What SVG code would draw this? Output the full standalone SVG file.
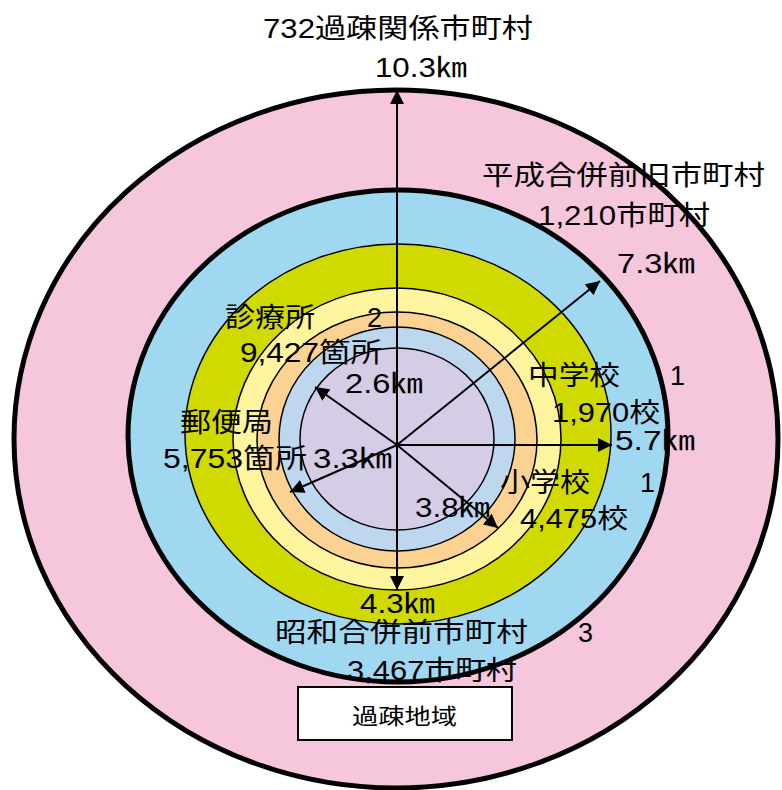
<svg xmlns="http://www.w3.org/2000/svg" width="782" height="790" viewBox="0 0 782 790">
<defs>
<style>
.t{font-family:"Liberation Sans","Noto Sans CJK JP",sans-serif;font-size:27px;fill:#000}
.s{font-family:"Liberation Sans","Noto Sans CJK JP",sans-serif;font-size:22px;fill:#000}
.ring{stroke:#000;stroke-width:1.5}
.thick{stroke:#000;stroke-width:5}
.arr{stroke:#000;stroke-width:2;fill:none;marker-end:url(#ah)}
</style>
<marker id="ah" viewBox="0 0 10 10" refX="10" refY="5" markerWidth="7" markerHeight="7" orient="auto" markerUnits="strokeWidth">
<path d="M0,0 L10,5 L0,10 z" fill="#000"/>
</marker>
</defs>
<rect width="782" height="790" fill="#fff"/>
<g id="ring-pink"><ellipse class="thick" cx="396" cy="439" rx="382" ry="349" fill="#F5C6DC"/></g>
<g id="ring-blue"><ellipse class="thick" cx="398" cy="436" rx="270" ry="246" fill="#A0D8F2"/></g>
<g id="ring-green"><ellipse class="ring" cx="398" cy="434" rx="213" ry="190" fill="#D0DA00"/></g>
<g id="ring-yellow"><ellipse class="ring" cx="397" cy="439" rx="164" ry="151" fill="#FFF59F"/></g>
<g id="ring-orange"><ellipse class="ring" cx="397" cy="440" rx="140" ry="128" fill="#FCD292"/></g>
<g id="ring-lightblue"><ellipse class="ring" cx="397" cy="439" rx="118" ry="112" fill="#BCD7EE"/></g>
<g id="ring-purple"><ellipse class="ring" cx="397" cy="439" rx="97" ry="91" fill="#D5CDE6"/></g>
<g id="connectors">
<line class="arr" x1="397" y1="445" x2="397" y2="90"/>
<line class="arr" x1="397" y1="445" x2="397" y2="590"/>
<line class="arr" x1="397" y1="445" x2="612" y2="445"/>
<line class="arr" x1="397" y1="445" x2="600" y2="281"/>
<line class="arr" x1="397" y1="445" x2="315" y2="387"/>
<line class="arr" x1="397" y1="445" x2="290" y2="492"/>
<line class="arr" x1="397" y1="445" x2="498" y2="528"/>
</g>
<g id="labels">
<text class="t" x="263" y="38" textLength="270" lengthAdjust="spacingAndGlyphs">732過疎関係市町村</text>
<text class="t" x="375" y="77" textLength="92" lengthAdjust="spacingAndGlyphs">10.3㎞</text>
<text class="t" x="482" y="185" textLength="283" lengthAdjust="spacingAndGlyphs">平成合併前旧市町村</text>
<text class="t" x="538" y="225" textLength="172" lengthAdjust="spacingAndGlyphs">1,210市町村</text>
<text class="t" x="617" y="273" textLength="78" lengthAdjust="spacingAndGlyphs">7.3㎞</text>
<text class="t" x="225" y="327" textLength="90" lengthAdjust="spacingAndGlyphs">診療所</text>
<text class="t" x="367" y="327">2</text>
<text class="t" x="240" y="362" textLength="142" lengthAdjust="spacingAndGlyphs">9,427箇所</text>
<text class="t" x="345" y="393" textLength="78" lengthAdjust="spacingAndGlyphs">2.6㎞</text>
<text class="t" x="180" y="432" textLength="93" lengthAdjust="spacingAndGlyphs">郵便局</text>
<text class="t" x="163" y="468" textLength="144" lengthAdjust="spacingAndGlyphs">5,753箇所</text>
<text class="t" x="313" y="468" textLength="79" lengthAdjust="spacingAndGlyphs">3.3㎞</text>
<text class="t" x="528" y="385" textLength="92" lengthAdjust="spacingAndGlyphs">中学校</text>
<text class="t" x="670" y="385">1</text>
<text class="t" x="552" y="422" textLength="108" lengthAdjust="spacingAndGlyphs">1,970校</text>
<text class="t" x="615" y="450" textLength="80" lengthAdjust="spacingAndGlyphs">5.7㎞</text>
<text class="t" x="500" y="492" textLength="90" lengthAdjust="spacingAndGlyphs">小学校</text>
<text class="t" x="640" y="492">1</text>
<text class="t" x="520" y="528" textLength="108" lengthAdjust="spacingAndGlyphs">4,475校</text>
<text class="t" x="415" y="517" textLength="75" lengthAdjust="spacingAndGlyphs">3.8㎞</text>
<text class="t" x="360" y="613" textLength="75" lengthAdjust="spacingAndGlyphs">4.3㎞</text>
<text class="t" x="275" y="642" textLength="253" lengthAdjust="spacingAndGlyphs">昭和合併前市町村</text>
<text class="t" x="578" y="642">3</text>
<text class="t" x="347" y="680" textLength="170" lengthAdjust="spacingAndGlyphs">3,467市町村</text>
</g>
<g id="legend">
<rect x="298" y="687" width="214" height="53" fill="#fff" stroke="#000" stroke-width="2"/>
<text class="s" x="352" y="724" textLength="105" lengthAdjust="spacingAndGlyphs">過疎地域</text>
</g>
</svg>
